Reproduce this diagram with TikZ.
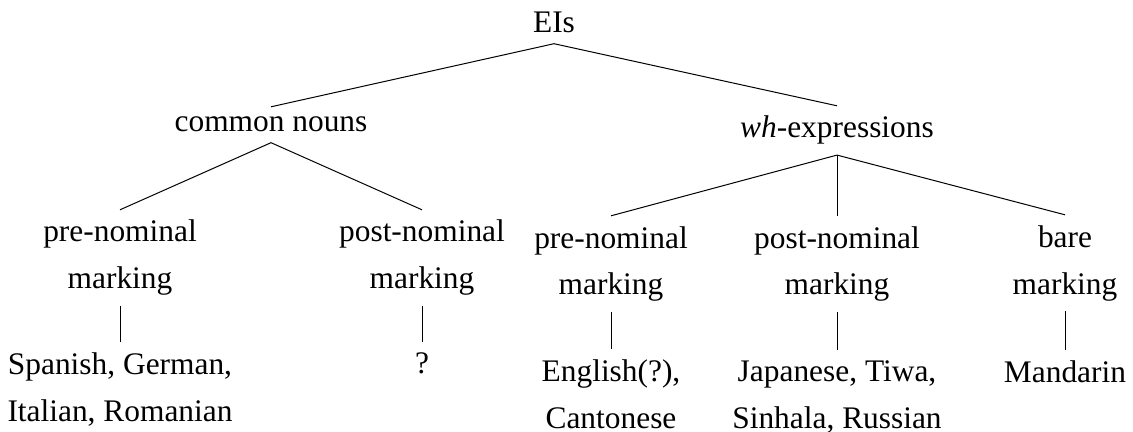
\documentclass[tikz,border=0pt]{standalone}
\usepackage{fontspec}
\setmainfont{Liberation Serif}
\usepackage{tikz}
\usetikzlibrary{positioning}

\begin{document}
\begin{tikzpicture}[x=0.5pt,y=-0.5pt,
    every node/.style={font=\fontsize{15.7}{23.5}\selectfont,align=center,inner sep=5pt,anchor=base},
    branch/.style={draw,line width=0.5pt}]
  \useasboundingbox (0,0) rectangle (1133,432);
  % root and first split
  \node (ei) at (554,33) {EIs};
  \node (cn) at (271,132) {common nouns};
  \node (wh) at (837,138) {\textit{wh}-expressions};
  \draw[branch] (ei.south) -- (cn.north);
  \draw[branch] (ei.south) -- (wh.north);
  % common nouns (base = last line)
  \node (cnpre) at (120,289) {pre-nominal\\marking};
  \node (cnpost) at (422,289) {post-nominal\\marking};
  \draw[branch] (cn.south) -- (cnpre.north);
  \draw[branch] (cn.south) -- (cnpost.north);
  \node (cnprel) at (120,421) {Spanish, German,\\Italian, Romanian};
  \node (cnpostl) at (422,373) {?};
  \draw[branch] (cnpre.south) -- (cnprel.north);
  \draw[branch] (cnpost.south) -- (cnpostl.north);
  % wh-expressions
  \node (whpre) at (611,295) {pre-nominal\\marking};
  \node (whpost) at (837,295) {post-nominal\\marking};
  \node (whbare) at (1065,294) {bare\\marking};
  \draw[branch] (wh.south) -- (whpre.north);
  \draw[branch] (wh.south) -- (whpost.north);
  \draw[branch] (wh.south) -- (whbare.north);
  \node (whprel) at (611,428) {English(?),\\Cantonese};
  \node (whpostl) at (837,428) {Japanese, Tiwa,\\Sinhala, Russian};
  \node (whbarel) at (1065,382) {Mandarin};
  \draw[branch] (whpre.south) -- (whprel.north);
  \draw[branch] (whpost.south) -- (whpostl.north);
  \draw[branch] (whbare.south) -- (whbarel.north);
\end{tikzpicture}
\end{document}
